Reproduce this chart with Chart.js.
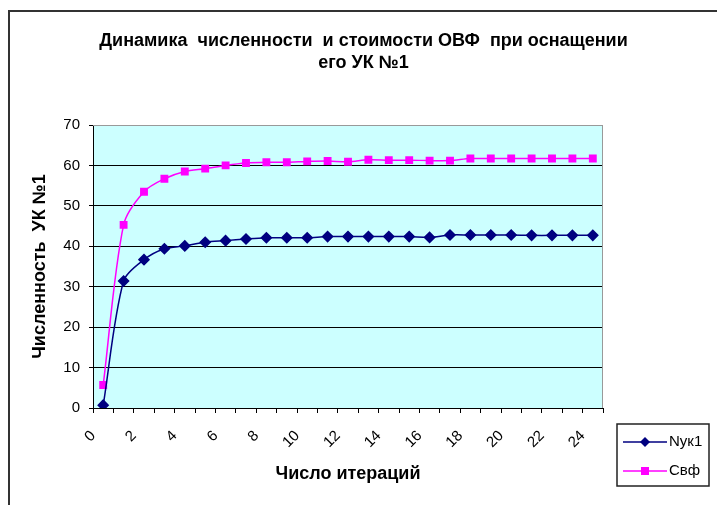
<!DOCTYPE html>
<html>
<head>
<meta charset="utf-8">
<script src="https://cdn.jsdelivr.net/npm/chart.js@4"></script>
<style>
html,body{margin:0;padding:0;background:#fff;}
#wrap{width:717px;height:505px;position:relative;}
</style>
</head>
<body>
<div id="wrap"><canvas id="c" width="717" height="505"></canvas></div>
<script>
const iterations = ['0','1','2','3','4','5','6','7','8','9','10','11','12','13','14','15','16','17','18','19','20','21','22','23','24'];
const nyk1 = [0.7, 31.4, 36.7, 39.4, 40.1, 41.0, 41.4, 41.8, 42.1, 42.1, 42.1, 42.4, 42.4, 42.4, 42.4, 42.4, 42.2, 42.8, 42.8, 42.8, 42.8, 42.7, 42.7, 42.7, 42.7];
const cvf = [5.7, 45.3, 53.5, 56.7, 58.5, 59.2, 60.0, 60.6, 60.8, 60.8, 61.0, 61.1, 60.9, 61.4, 61.3, 61.3, 61.2, 61.2, 61.7, 61.7, 61.7, 61.7, 61.7, 61.7, 61.7];
const yTicks = [0, 10, 20, 30, 40, 50, 60, 70];
const titleLines = ['Динамика  численности  и стоимости ОВФ  при оснащении', 'его УК №1'];
const xTitle = 'Число итераций';
const yTitle = 'Численность  УК №1';

const FONT = '"Liberation Sans", Arial, sans-serif';

const framePlugin = {
  id: 'frame',
  beforeDraw(chart) {
    const ctx = chart.ctx;
    ctx.save();
    ctx.fillStyle = '#fff';
    ctx.fillRect(0, 0, chart.width, chart.height);
    ctx.strokeStyle = '#333';
    ctx.lineWidth = 2;
    ctx.strokeRect(9, 11, 800, 600);
    const a = chart.chartArea;
    ctx.fillStyle = '#CCFFFF';
    ctx.fillRect(a.left, a.top, a.right - a.left, a.bottom - a.top);
    ctx.restore();
  },
  beforeDatasetsDraw(chart) {
    const ctx = chart.ctx;
    const a = chart.chartArea;
    ctx.save();
    ctx.strokeStyle = '#999';
    ctx.lineWidth = 1;
    ctx.beginPath();
    ctx.moveTo(a.left, a.top + 0.5);
    ctx.lineTo(a.right - 0.5, a.top + 0.5);
    ctx.lineTo(a.right - 0.5, a.bottom);
    ctx.stroke();
    ctx.restore();
  },
  afterDraw(chart) {
    const ctx = chart.ctx;
    ctx.save();
    const bx = 617, by = 424, bw = 92, bh = 62;
    ctx.strokeStyle = '#222';
    ctx.lineWidth = 1.5;
    ctx.strokeRect(bx, by, bw, bh);
    chart.data.datasets.forEach((ds, i) => {
      const y = by + 18 + i * 29;
      ctx.strokeStyle = ds.borderColor;
      ctx.lineWidth = 1.5;
      ctx.beginPath();
      ctx.moveTo(bx + 6, y);
      ctx.lineTo(bx + 50, y);
      ctx.stroke();
      ctx.fillStyle = ds.pointBackgroundColor;
      const cx = bx + 28;
      if (ds.pointStyle === 'rectRot') {
        ctx.beginPath();
        ctx.moveTo(cx, y - 5); ctx.lineTo(cx + 5, y); ctx.lineTo(cx, y + 5); ctx.lineTo(cx - 5, y);
        ctx.closePath(); ctx.fill();
      } else {
        ctx.fillRect(cx - 4, y - 4, 8, 8);
      }
      ctx.fillStyle = '#000';
      ctx.font = '15px ' + FONT;
      ctx.textBaseline = 'middle';
      ctx.textAlign = 'left';
      ctx.fillText(ds.label, bx + 52, y);
    });
    ctx.restore();
  }
};

new Chart(document.getElementById('c'), {
  type: 'line',
  data: {
    labels: iterations,
    datasets: [
      {
        label: 'Nyк1',
        data: nyk1,
        borderColor: '#000080',
        backgroundColor: '#000080',
        pointBackgroundColor: '#000080',
        pointBorderColor: '#000080',
        pointStyle: 'rectRot',
        pointRadius: 5,
        borderWidth: 1.5,
        tension: 0.3
      },
      {
        label: 'Свф',
        data: cvf,
        borderColor: '#FF00FF',
        backgroundColor: '#FF00FF',
        pointBackgroundColor: '#FF00FF',
        pointBorderColor: '#FF00FF',
        pointStyle: 'rect',
        pointRadius: 4.5,
        borderWidth: 1.5,
        tension: 0.3
      }
    ]
  },
  plugins: [framePlugin],
  options: {
    responsive: false,
    animation: false,
    layout: { padding: { left: 25, right: 15, top: 11, bottom: 17 } },
    plugins: {
      legend: { display: false },
      tooltip: { enabled: false },
      title: {
        display: true,
        text: titleLines,
        color: '#000',
        font: { family: FONT, size: 18, weight: 'bold', lineHeight: '22px' },
        padding: { top: 19, bottom: 51 }
      }
    },
    scales: {
      x: {
        type: 'category',
        offset: true,
        afterFit(s) { s.height = 80; },
        grid: { display: true, drawOnChartArea: false, drawTicks: true, tickLength: 5, tickColor: '#000', offset: true },
        border: { display: true, color: '#000', width: 1 },
        ticks: {
          autoSkip: false,
          maxRotation: 45,
          minRotation: 45,
          labelOffset: -10,
          padding: 14,
          color: '#000',
          font: { family: FONT, size: 15 },
          callback(v, i) { return i % 2 === 0 ? iterations[i] : ''; }
        },
        title: {
          display: true,
          text: xTitle,
          color: '#000',
          font: { family: FONT, size: 18, weight: 'bold' },
          padding: { top: 0, bottom: 3 }
        }
      },
      y: {
        min: 0,
        max: 70,
        afterFit(s) { s.width = 68; },
        afterBuildTicks(s) { s.ticks = yTicks.map(v => ({ value: v })); },
        grid: {
          color(ctx) { return ctx.tick && ctx.tick.value === 70 ? '#999' : '#000'; },
          lineWidth: 1,
          drawTicks: true,
          tickLength: 4,
          tickColor: '#000'
        },
        border: { display: true, color: '#000', width: 1 },
        ticks: {
          padding: 9,
          color: '#000',
          font: { family: FONT, size: 15 }
        },
        title: {
          display: true,
          text: yTitle,
          color: '#000',
          font: { family: FONT, size: 18, weight: 'bold' },
          padding: { top: 4, bottom: 0 }
        }
      },
      yspace: {
        position: 'right',
        display: true,
        afterFit(s) { s.width = 99; },
        grid: { display: false, drawTicks: false },
        border: { display: false },
        ticks: { display: false }
      }
    }
  }
});
</script>
</body>
</html>
